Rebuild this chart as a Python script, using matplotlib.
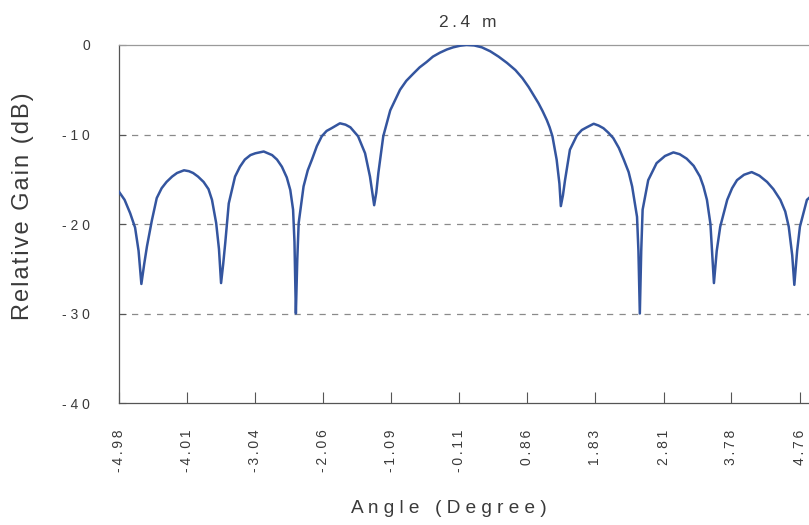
import matplotlib
matplotlib.use("Agg")
import matplotlib.pyplot as plt

# ---- data (angle in degrees, relative gain in dB) ----
angle = [-4.98, -4.90, -4.82, -4.75, -4.70, -4.66, -4.62, -4.58, -4.51, -4.44,
         -4.37, -4.30, -4.22, -4.15, -4.05, -3.98, -3.92, -3.85, -3.77, -3.70,
         -3.65, -3.59, -3.55, -3.52, -3.49, -3.46, -3.41, -3.32, -3.25, -3.18,
         -3.10, -3.03, -2.91, -2.79, -2.72, -2.65, -2.58, -2.53, -2.49, -2.47,
         -2.45, -2.43, -2.41, -2.34, -2.28, -2.22, -2.15, -2.08, -2.01, -1.94,
         -1.82, -1.74, -1.67, -1.56, -1.46, -1.39, -1.35, -1.33, -1.30, -1.27,
         -1.20, -1.10, -0.96, -0.87, -0.77, -0.68, -0.58, -0.49, -0.39, -0.29,
         -0.20, -0.10, -0.01, 0.10, 0.21, 0.33, 0.45, 0.57, 0.69, 0.79,
         0.88, 0.95, 1.02, 1.08, 1.14, 1.18, 1.22, 1.28, 1.32, 1.34,
         1.37, 1.40, 1.47, 1.57, 1.64, 1.71, 1.81, 1.88, 1.95, 2.02,
         2.09, 2.17, 2.24, 2.31, 2.36, 2.43, 2.45, 2.47, 2.49, 2.51,
         2.59, 2.71, 2.83, 2.95, 3.04, 3.14, 3.24, 3.33, 3.38, 3.43,
         3.48, 3.53, 3.57, 3.62, 3.72, 3.79, 3.86, 3.96, 4.07, 4.18,
         4.29, 4.38, 4.48, 4.55, 4.60, 4.65, 4.68, 4.72, 4.76, 4.86,
         4.99]
gain_db = [-16.4, -17.3, -18.8, -20.4, -23.0, -26.7, -24.5, -22.5, -19.6, -17.1,
           -16.0, -15.3, -14.7, -14.3, -14.0, -14.1, -14.3, -14.7, -15.3, -16.1,
           -17.3, -19.9, -22.8, -26.6, -24.5, -22.1, -17.7, -14.7, -13.6, -12.8,
           -12.3, -12.1, -11.9, -12.3, -12.8, -13.6, -14.8, -16.2, -18.4, -22.0,
           -30.0, -24.0, -19.9, -15.8, -14.0, -12.8, -11.3, -10.2, -9.6, -9.3,
           -8.75, -8.9, -9.2, -10.2, -12.1, -14.7, -16.8, -17.9, -16.5, -14.3,
           -10.2, -7.3, -5.0, -4.0, -3.2, -2.5, -1.9, -1.3, -0.86, -0.5,
           -0.26, -0.08, 0.0, -0.05, -0.26, -0.7, -1.3, -2.0, -2.8, -3.7,
           -4.7, -5.6, -6.5, -7.4, -8.4, -9.2, -10.2, -12.8, -15.5, -18.0,
           -16.8, -15.1, -11.7, -10.1, -9.5, -9.2, -8.8, -9.0, -9.3, -9.8,
           -10.4, -11.5, -12.8, -14.2, -15.8, -19.2, -23.0, -30.0, -23.0, -18.4,
           -15.1, -13.2, -12.4, -12.0, -12.2, -12.7, -13.5, -14.7, -15.8, -17.3,
           -20.0, -26.6, -23.0, -20.3, -17.3, -16.0, -15.1, -14.5, -14.2, -14.6,
           -15.3, -16.1, -17.3, -18.6, -20.3, -23.5, -26.8, -23.0, -20.3, -17.3,
           -16.4]

x_ticks = [-4.98, -4.01, -3.04, -2.06, -1.09, -0.11, 0.86, 1.83, 2.81, 3.78, 4.76]
y_ticks = [0, -10, -20, -30, -40]
grid_levels = [-10, -20, -30]

title = "2.4 m"
x_label = "Angle (Degree)"
y_label = "Relative Gain (dB)"

LINE_COLOR = "#34559f"
TEXT_COLOR = "#3a3a3a"
FONT = ["Liberation Sans", "DejaVu Sans"]
THIN = "\u2009"
HAIR = "\u200a"


def spaced(s, gap=" "):
    """Wide letter spacing like the original typeset labels."""
    return gap.join(s)


plt.rcParams["font.family"] = FONT

fig = plt.figure(figsize=(8.09, 5.25), dpi=100)
# axes runs a little past the right edge, as in the (cropped) reference
ax = fig.add_axes([119 / 809, 1 - 403 / 525, 697 / 809, 358 / 525])

for lvl in grid_levels:
    ax.axhline(lvl, color="#8a8a8a", lw=0.9, ls=(0, (5, 5)), zorder=1)

ax.plot(angle, gain_db, color=LINE_COLOR, lw=1.8, zorder=3)

ax.set_xlim(-4.98, 4.99)
ax.set_ylim(-40, 0)

ax.set_xticks(x_ticks)
ax.set_xticklabels([spaced(f"{v:.2f}", THIN) for v in x_ticks], rotation=90,
                   fontsize=10, color=TEXT_COLOR)
ax.set_yticks(y_ticks)
ax.set_yticklabels([spaced(f"{v:d}") for v in y_ticks],
                   fontsize=10, color=TEXT_COLOR)

ax.tick_params(axis="x", direction="in", length=8, width=0.8, pad=19,
               color="#555555")
ax.tick_params(axis="y", direction="in", length=5, width=0.8, pad=21,
               color="#555555")

for side in ["left", "bottom"]:
    ax.spines[side].set_color("#555555")
    ax.spines[side].set_linewidth(0.9)
ax.spines["top"].set_color("#9a9a9a")
ax.spines["top"].set_linewidth(0.9)
ax.spines["right"].set_visible(False)

ax.set_title(spaced(title, THIN), fontsize=12.5, color=TEXT_COLOR, pad=13)
ax.set_xlabel(spaced(x_label), fontsize=13.7, color=TEXT_COLOR)
ax.xaxis.set_label_coords(0.473, -0.27)
ax.set_ylabel(spaced(y_label, HAIR), fontsize=17, color=TEXT_COLOR)
ax.yaxis.set_label_coords(-0.122, 0.55)

fig.savefig("out.png", dpi=100)
